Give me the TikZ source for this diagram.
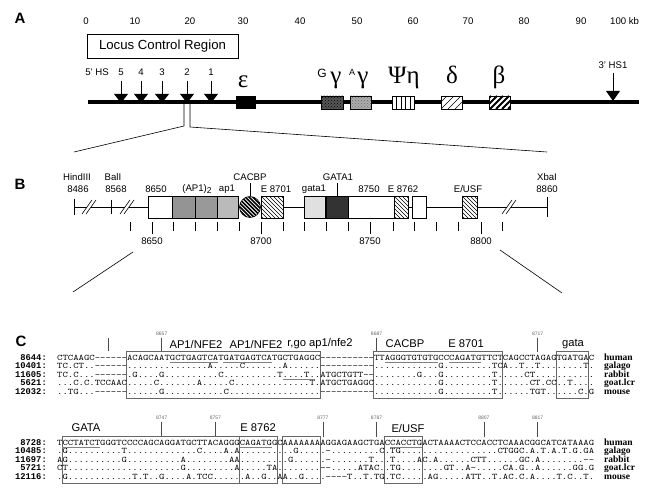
\documentclass[tikz,border=0pt]{standalone}
\usepackage{fontspec}
\setmainfont{Liberation Sans}
\setmonofont{lmmono10-regular.otf}[FakeStretch=1.2]
\newfontfamily\grk{Liberation Serif}
\newfontfamily\spfont{Liberation Serif}
\newfontfamily\lblmono{Liberation Mono}
\usetikzlibrary{patterns}
\newcount\segcnt
\newcommand\seqline[2]{\global\advance\segcnt by 1\relax
  \node[seqt] (sq\the\segcnt) at (57,#1) {#2};}
\newcommand\rowA[7]{\seqline{#1}{#2#3#4#5#6#7}}
\newcommand\rowB[7]{\seqline{#1}{#2#3#4#5#6#7}}
\newcommand\hsarrow[4]{\draw[line width=0.8pt] (#1,#2) -- (#1,#3);
  \fill (#1-7,#3) -- (#1+7,#3) -- (#1,#4) -- cycle;}
\newcommand\ix[1]{57+5.37*#1}
\tikzset{
  panel/.style={font=\fontsize{15}{15}\selectfont\bfseries, inner sep=0},
  scalet/.style={font=\fontsize{9.6}{9.6}\selectfont, inner sep=0},
  hsl/.style={font=\fontsize{9.6}{9.6}\selectfont, inner sep=0},
  greek/.style={font=\grk\fontsize{25}{25}\selectfont, inner sep=0, anchor=base},
  bl/.style={font=\fontsize{9.6}{9.6}\selectfont, inner sep=0},
  seqt/.style={font=\ttfamily\fontsize{8.524}{9}\selectfont, inner sep=0, anchor=base west},
  numl/.style={font=\lblmono\bfseries\fontsize{8.8}{8.8}\selectfont, inner sep=0, anchor=base east},
  spl/.style={font=\spfont\bfseries\fontsize{9.5}{9.5}\selectfont, inner sep=0, anchor=base west},
  site/.style={font=\fontsize{11.2}{11.2}\selectfont, inner sep=0},
  posn/.style={font=\fontsize{5}{5}\selectfont, text=black!60, inner sep=0},
  cbox/.style={draw=black!60, line width=0.8pt},
  ul/.style={draw=black!50, line width=0.8pt},
  thin/.style={line width=0.6pt},
  bbox/.style={draw, line width=0.6pt}
}
\begin{document}
\begin{tikzpicture}[x=1pt,y=-1pt]
\fill[white] (0,0) rectangle (646,492);
\useasboundingbox (0,0) rectangle (646,492);

% ---------------- panel labels
\node[panel] (pA) at (20,18) {A};
\node[panel] (pB) at (20,184) {B};
\node[panel] (pC) at (21,341) {C};

% ---------------- A: scale
\foreach \v/\x in {0/86,10/135,20/190,30/243,40/300,50/357,60/413,70/468,80/524,90/581}
  \node[scalet] (kb\v) at (\x,21) {\v};
\node[scalet,anchor=west] (kb100) at (610,21) {100 kb};

\node[draw, line width=0.6pt, minimum width=151pt, minimum height=24pt, inner sep=0,
      font=\fontsize{13.2}{13.2}\selectfont] (lcr) at (162.5,46) {Locus Control Region};

\node[hsl] (hs5p) at (97,72) {5' HS};
\node[hsl] (hs5) at (121,72) {5};
\node[hsl] (hs4) at (141,72) {4};
\node[hsl] (hs3) at (162,72) {3};
\node[hsl] (hs2) at (187,72) {2};
\node[hsl] (hs1) at (211,72) {1};

\draw[line width=3.2pt] (88,102) coordinate (lineL) -- (639,102) coordinate (lineR);

\hsarrow{121}{81}{94}{103}
\hsarrow{141}{81}{94}{103}
\hsarrow{162}{81}{94}{103}
\hsarrow{187}{81}{94}{103}
\hsarrow{211}{81}{94}{103}

\node[hsl] (hs31) at (613,65) {3' HS1};
\hsarrow{613}{73}{91}{101}

% genes
\fill[black] (236,96) rectangle (256,109);
\fill[black!66] (321,96) rectangle (343,109);
\fill[pattern=crosshatch dots, pattern color=black] (321,96) rectangle (343,109);
\draw[line width=0.6pt] (321,96) rectangle (343,109);
\fill[black!32] (350,96) rectangle (371,109);
\fill[pattern=crosshatch dots, pattern color=black!60] (350,96) rectangle (371,109);
\draw[line width=0.6pt] (350,96) rectangle (371,109);
\fill[white] (392,96) rectangle (414,109);
\foreach \xx in {396.5,401,405.5,410} \draw[line width=0.6pt] (\xx,96) -- (\xx,109);
\draw[line width=0.6pt] (392,96) rectangle (414,109);
\fill[white] (441,96) rectangle (462,109);
\begin{scope}
  \clip (441,96) rectangle (462,109);
  \foreach \i in {0,...,5} \draw[line width=0.6pt] ({434+\i*7},109) -- ({447+\i*7},96);
\end{scope}
\draw[line width=0.6pt] (441,96) rectangle (462,109);
\fill[white] (489,96) rectangle (510,109);
\begin{scope}
  \clip (489,96) rectangle (510,109);
  \foreach \i in {0,...,6} \draw[line width=2pt] ({478+\i*6},109) -- ({491+\i*6},96);
\end{scope}
\draw[line width=0.6pt] (489,96) rectangle (510,109);

\node[greek] (eps) at (243,88) {ε};
\node[font=\fontsize{12}{12}\selectfont, inner sep=0, anchor=base] (Gl) at (322,78) {G};
\node[greek] (g1) at (336,84) {γ};
\node[font=\fontsize{9}{9}\selectfont, inner sep=0, anchor=base] (Al) at (352,76) {A};
\node[greek] (g2) at (363,84) {γ};
\node[greek] (psieta) at (404,84) {Ψη};
\node[greek] (del) at (452,84) {δ};
\node[greek] (bet) at (499,84) {β};

% fan A -> B
\coordinate (fanL) at (74,152);
\coordinate (fanR) at (547,152);
\draw[thin] (184,103) -- (184,126) -- (fanL);
\draw[thin] (190,103) -- (190,127) -- (fanR);

% ---------------- B
\node[bl] (hind) at (77,177) {HindIII};
\node[bl] (hindn) at (78,189) {8486};
\node[bl] (bal) at (113,177) {BalI};
\node[bl] (baln) at (116,189) {8568};
\node[bl] (n8650t) at (156,189) {8650};
\node[bl] (ap12) at (197,189) {(AP1)\raisebox{-2.5pt}{\fontsize{8.5}{8.5}\selectfont 2}};
\node[bl] (ap1l) at (227,189) {ap1};
\node[bl] (cacbpl) at (250,177) {CACBP};
\node[bl] (e8701l) at (276,189) {E 8701};
\node[bl] (gata1l) at (314,189) {gata1};
\node[bl] (GATA1l) at (338,177) {GATA1};
\node[bl] (n8750t) at (369,189) {8750};
\node[bl] (e8762l) at (403,189) {E 8762};
\node[bl] (eusfl) at (468,189) {E/USF};
\node[bl] (xba) at (547,177) {XbaI};
\node[bl] (xban) at (547,189) {8860};

\draw[thin] (74,207) -- (87,207);
\draw[thin] (91,207) -- (125,207);
\draw[thin] (129,207) -- (507,207);
\draw[thin] (511,207) -- (547,207);
\draw[thin] (74,199) -- (74,215);
\draw[thin] (111,200) -- (111,214);
\draw[thin] (547,197) -- (547,217);
\draw[thin] (82,214) -- (92,200);
\draw[thin] (86,214) -- (96,200);
\draw[thin] (120,214) -- (130,200);
\draw[thin] (124,214) -- (134,200);
\draw[thin] (502,214) -- (512,200);
\draw[thin] (506,214) -- (516,200);
\draw[thin] (250,183) -- (250,196);
\draw[thin] (337,183) -- (337,196);

\filldraw[bbox, fill=white] (148,196) rectangle (172,218);
\filldraw[bbox, fill=black!42] (172,196) rectangle (195,218);
\filldraw[bbox, fill=black!40] (195,196) rectangle (217,218);
\filldraw[bbox, fill=black!27] (217,196) rectangle (238,218);
\fill[white] (250,207) circle (10.5);
\begin{scope}
  \clip (250,207) circle (10.5);
  \foreach \i in {-8,...,8} \draw[line width=1.6pt] ({229+\i*3.8},196) -- ({251+\i*3.8},218);
\end{scope}
\draw[thin] (250,207) circle (10.5);
\fill[white] (261,196) rectangle (283,218);
\begin{scope}
  \clip (261,196) rectangle (283,218);
  \foreach \i in {-6,...,6} \draw[line width=0.7pt] ({261+\i*4},196) -- ({283+\i*4},218);
\end{scope}
\draw[bbox] (261,196) rectangle (283,218);
\filldraw[bbox, fill=black!12] (304,196) rectangle (325,218);
\filldraw[bbox, fill=black!80] (326,196) rectangle (348,218);
\filldraw[bbox, fill=white] (348,196) rectangle (394,218);
\fill[white] (394,196) rectangle (408,218);
\begin{scope}
  \clip (394,196) rectangle (408,218);
  \foreach \i in {-6,...,4} \draw[line width=0.7pt] ({394+\i*4},196) -- ({416+\i*4},218);
\end{scope}
\draw[bbox] (394,196) rectangle (408,218);
\filldraw[bbox, fill=white] (412,196) rectangle (426,218);
\fill[white] (462,196) rectangle (477,218);
\begin{scope}
  \clip (462,196) rectangle (477,218);
  \foreach \i in {-6,...,4} \draw[line width=0.7pt] ({462+\i*4},196) -- ({484+\i*4},218);
\end{scope}
\draw[bbox] (462,196) rectangle (477,218);

\foreach \t in {130,173,195,217,239,283,304,326,348,393,414,436,458,502}
  \draw[thin] (\t,222) -- (\t,231);
\foreach \t in {152,261,370,481}
  \draw[thin] (\t,222) -- (\t,234);
\node[bl] (b8650) at (152,241) {8650};
\node[bl] (b8700) at (261,241) {8700};
\node[bl] (b8750) at (370,241) {8750};
\node[bl] (b8800) at (481,241) {8800};

% fan B -> C
\coordinate (bcL1) at (133,252);
\coordinate (bcL2) at (73,292);
\coordinate (bcR1) at (500,250);
\coordinate (bcR2) at (562,293);
\draw[thin] (bcL1) -- (bcL2);
\draw[thin] (bcR1) -- (bcR2);

% ---------------- C block 1
\node[site] (s1) at (196,344) {AP1/NFE2};
\node[site] (s2) at (256,344) {AP1/NFE2};
\node[site] (s3) at (320,344) {r,go ap1/nfe2};
\node[site] (s4) at (405,344) {CACBP};
\node[site] (s5) at (466,344) {E 8701};
\node[site] (s6) at (573,344) {gata};
\node[posn] (p8657) at ({\ix{19}+2.7},334) {8657};
\node[posn] (p8687) at ({\ix{59}+2.7},334) {8687};
\node[posn] (p8717) at ({\ix{89}+2.7},334) {8717};
\draw[thin, black!70] (108,338) -- (108,351);
\foreach \i in {19,59,89} \draw[thin, black!70] ({\ix{\i}+2.7},338) -- ({\ix{\i}+2.7},351.5);

\draw[cbox] ({\ix{13}},351.5) rectangle ({\ix{49}},398.5);
\draw[cbox] ({\ix{59}},351.5) rectangle ({\ix{83}},398.5);
\draw[cbox] ({\ix{93}},351.5) rectangle ({\ix{99}},398.5);

\rowA{360}{CTCAAGC------}{ACAGCAATGCTGAGTCATGATGAGTCATGCTGAGGC}{----------}{TTAGGGTGTGTGCCCAGATGTTCT}{CAGCCTAGAG}{TGATGAC}
\rowA{368.6}{TC.CT..------}{...............A.....C.......A......}{----------}{............G.........TC}{A..T..T...}{.....T.}
\rowA{377.2}{TC.C...------}{.G....G..........C..........T....T..}{ATGCTGTT--}{........G...G.........T.}{....CT....}{.......}
\rowA{385.8}{...C.C.TCCAAC}{.....C.......A.....C..............T.}{ATGCTGAGGC}{............G.........T.}{.....CT.CC}{..T....}
\rowA{394.4}{..TG...------}{......G...........C.................}{----------}{............G.........T.}{.....TGT..}{....C.G}

\draw[ul] ({\ix{21}},362.2) -- ({\ix{30}},362.2);
\draw[ul] ({\ix{31}},362.2) -- ({\ix{40}},362.2);
\draw[ul] ({\ix{61}},362.2) -- ({\ix{71}},362.2);
\draw[ul] ({\ix{73}},362.2) -- ({\ix{79}},362.2);
\draw[ul] ({\ix{42}},379.4) -- ({\ix{48}},379.4);

\node[numl] (n1) at (47,360) {8644:};
\node[numl] (n2) at (47,368.6) {10401:};
\node[numl] (n3) at (47,377.2) {11605:};
\node[numl] (n4) at (47,385.8) {5621:};
\node[numl] (n5) at (47,394.4) {12032:};
\node[spl] (sp1) at (604,360) {human};
\node[spl] (sp2) at (604,368.6) {galago};
\node[spl] (sp3) at (604,377.2) {rabbit};
\node[spl] (sp4) at (604,385.8) {goat.lcr};
\node[spl] (sp5) at (604,394.4) {mouse};

% ---------------- C block 2
\node[site] (t1) at (86,428) {GATA};
\node[site] (t2) at (258,428) {E 8762};
\node[site] (t3) at (408,428) {E/USF};
\node[posn] (p8747) at ({\ix{19}+2.7},418) {8747};
\node[posn] (p8757) at ({\ix{29}+2.7},418) {8757};
\node[posn] (p8777) at ({\ix{49}+2.7},418) {8777};
\node[posn] (p8787) at ({\ix{59}+2.7},418) {8787};
\node[posn] (p8807) at ({\ix{79}+2.7},418) {8807};
\node[posn] (p8817) at ({\ix{89}+2.7},418) {8817};
\foreach \i in {19,29,49,59,79,89} \draw[thin, black!70] ({\ix{\i}+2.7},421.5) -- ({\ix{\i}+2.7},436.5);

\draw[cbox] ({\ix{1}},436.5) rectangle ({\ix{34}},483.5);
\draw[cbox] ({\ix{34}},436.5) rectangle ({\ix{41}},483.5);
\draw[cbox] ({\ix{42}},436.5) rectangle ({\ix{49}},483.5);
\draw[cbox] ({\ix{61}},436.5) rectangle ({\ix{68}},483.5);

\rowB{445}{TCCTATCTGGGTCCCCAGCAGGATGCTTACAGGG}{CAGATGGC}{AAAAAAA}{AGGAGAAGCTGA}{CCACCTG}{ACTAAAACTCCACCTCAAACGGCATCATAAAG}
\rowB{453.6}{.G..........T.............C....A.A}{........}{..G....}{.-.........C}{.TG....}{..............CTGGC.A.T.A.T.G.GA}
\rowB{462.2}{AG..........G..........A........AA}{........}{.G.....}{.-.......T..}{.T....A}{C.A......CTT......GC.A........--}
\rowB{470.8}{CT.....................G.........A}{.....TA.}{.......}{--.....ATAC.}{.TG....}{....GT..A-.....CA.G..A......GG.G}
\rowB{479.4}{.G............T.T..G....A.TCC.....}{.A..G..A}{A..G...}{.----T..T.TG}{.TC....}{.AG.....ATT..T.AC.C.A....T.C..T.}

\draw[ul] ({\ix{1}},447.2) -- ({\ix{8}},447.2);
\draw[ul] ({\ix{34}},447.2) -- ({\ix{40}},447.2);
\draw[ul] ({\ix{62}},447.2) -- ({\ix{68}},447.2);

\node[numl] (m1) at (47,445) {8728:};
\node[numl] (m2) at (47,453.6) {10485:};
\node[numl] (m3) at (47,462.2) {11697:};
\node[numl] (m4) at (47,470.8) {5721:};
\node[numl] (m5) at (47,479.4) {12116:};
\node[spl] (sq1) at (604,445) {human};
\node[spl] (sq2) at (604,453.6) {galago};
\node[spl] (sq3) at (604,462.2) {rabbit};
\node[spl] (sq4) at (604,470.8) {goat.lcr};
\node[spl] (sq5) at (604,479.4) {mouse};
\end{tikzpicture}
\end{document}
